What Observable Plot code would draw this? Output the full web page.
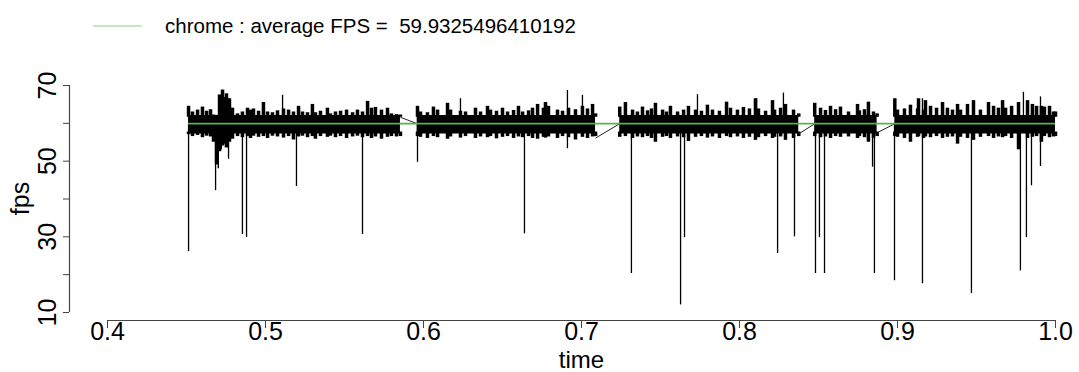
<!DOCTYPE html>
<html><head><meta charset="utf-8">
<script src="https://cdn.jsdelivr.net/npm/d3@7"></script>
<script src="https://cdn.jsdelivr.net/npm/@observablehq/plot@0.6"></script>
<style>
body{margin:0;background:#fff;}
#wrap{position:relative;width:1079px;height:372px;font-family:"Liberation Sans",Arial,sans-serif;}
#legend{position:absolute;left:0;top:0;}
#chart{position:absolute;left:0;top:0;}
</style></head>
<body><div id="wrap"><div id="chart"></div><svg id="legend" width="700" height="50"></svg></div>
<script>
const seriesName = "chrome";
const meanFps = 59.9325496410192;
const xTicks = [0.4, 0.5, 0.6, 0.7, 0.8, 0.9, 1.0];
const yTicks = [10, 20, 30, 40, 50, 60, 70];
const yLabelTicks = [10, 30, 50, 70];

// solid core of the dense FPS trace
const bandCoreHigh = 62.1;
const bandCoreLow = 57.2;
const segmentStart = [.4513, .5960, .7242, .8476, .8983];
const segmentEnd = [.5854, .7089, .8375, .8871, 1.0];

// jagged envelope of the trace (upper and lower excursions) per segment
const s1Time = [.4513,.4538,.4570,.4601,.4627,.4652,.4671,.4690,.4709,.4728,.4753,.4772,.4791,.4823,.4854,.4886,.4905,.4924,.4956,.4987,.5013,.5044,.5076,.5114,.5146,.5177,.5209,.5234,.5266,.5297,.5316,.5348,.5392,.5411,.5443,.5475,.5513,.5551,.5582,.5614,.5646,.5671,.5696,.5734,.5772,.5797,.5829,.5854];
const s1High = [64.5,63.0,63.5,64.3,63.2,63.6,62.2,62.1,67.5,68.8,67.8,66.5,64.0,62.5,63.0,64.0,63.5,63.8,63.2,65.5,63.0,62.8,63.3,63.8,63.5,63.0,64.5,63.0,62.8,65.0,62.8,63.2,64.0,62.5,63.0,63.2,63.5,62.8,63.5,63.0,65.8,64.0,64.2,63.5,64.0,62.5,62.3,62.2];
const s1Low = [57.0,56.5,56.8,56.2,56.6,56.4,55.0,49.0,52.5,54.0,53.5,55.0,55.8,56.5,56.2,56.5,56.0,56.6,56.3,56.5,56.0,56.6,56.4,56.1,56.5,55.6,56.4,56.6,56.2,56.5,55.8,56.5,56.3,56.6,56.2,56.5,56.0,56.4,56.6,56.2,56.5,56.0,56.4,55.8,56.3,56.5,56.4,56.5];

const s2Time = [.5962,.5981,.6025,.6063,.6089,.6152,.6171,.6234,.6266,.6329,.6361,.6405,.6424,.6462,.6500,.6532,.6570,.6601,.6627,.6665,.6690,.6722,.6759,.6772,.6791,.6848,.6880,.6918,.6962,.7006,.7038,.7070,.7089];
const s2High = [64.5,63.0,62.8,64.3,63.5,65.3,63.5,63.2,63.0,64.0,63.0,64.5,63.5,63.2,64.0,63.0,63.4,64.5,63.0,63.3,64.0,65.0,64.0,65.5,64.5,63.5,63.2,64.0,63.6,64.5,63.8,65.0,62.5];
const s2Low = [56.5,56.3,56.0,56.5,56.2,55.8,56.4,56.1,56.5,56.0,56.4,56.2,56.5,55.9,56.3,56.5,56.0,56.4,56.2,56.5,56.0,55.8,56.3,56.1,56.4,56.0,56.5,56.2,55.6,56.3,56.0,56.4,56.5];

const s3Time = [.7242,.7278,.7323,.7354,.7386,.7418,.7443,.7468,.7513,.7538,.7563,.7608,.7646,.7677,.7722,.7759,.7797,.7829,.7873,.7918,.7943,.7987,.8025,.8063,.8101,.8120,.8165,.8209,.8222,.8260,.8291,.8342,.8375];
const s3High = [64.3,65.5,63.5,63.0,64.3,63.3,63.8,65.3,63.5,63.0,64.5,63.0,63.5,64.5,63.5,63.2,64.8,63.5,63.2,65.6,64.0,63.5,64.2,63.8,66.5,63.8,63.2,66.0,63.5,64.0,65.0,63.5,62.5];
const s3Low = [56.3,56.5,56.0,56.4,56.2,56.5,56.0,55.0,56.3,56.5,56.0,56.4,56.2,55.2,56.3,56.5,56.1,56.4,56.0,56.5,56.2,56.4,56.0,56.3,55.5,56.2,56.5,56.0,56.3,56.4,55.5,56.0,56.5];

const s4Time = [.8476,.8513,.8544,.8576,.8608,.8639,.8690,.8747,.8759,.8791,.8816,.8848,.8871];
const s4High = [65.3,64.0,63.4,64.5,63.6,64.3,63.0,65.0,63.3,63.6,65.6,63.0,62.5];
const s4Low = [56.5,56.2,56.4,56.0,56.5,56.3,56.4,56.0,56.5,56.2,55.0,56.0,56.5];

const s5Time = [.8983,.9000,.9044,.9082,.9127,.9133,.9165,.9177,.9209,.9247,.9285,.9316,.9348,.9380,.9399,.9443,.9481,.9525,.9576,.9608,.9639,.9665,.9684,.9722,.9766,.9823,.9854,.9880,.9911,.9930,.9962,.9987,1.0];
const s5High = [66.5,63.5,63.8,64.8,63.8,66.5,63.5,66.0,64.5,64.0,65.5,64.0,63.5,65.0,63.5,65.0,66.0,63.5,65.5,64.5,64.0,66.0,64.0,64.5,65.5,66.0,65.0,64.5,64.5,64.3,64.5,63.0,63.0];
const s5Low = [56.5,56.3,56.0,55.0,56.3,56.5,56.0,56.4,56.2,56.5,56.0,56.3,56.4,54.5,56.3,56.0,55.5,56.3,56.5,56.0,56.4,56.2,56.5,56.0,53.0,56.0,56.3,56.5,55.0,56.5,56.2,56.4,56.5];

// dense burst near the start (solid block)
const burstTime = [.4684, .4700, .4709, .4728, .4753, .4772, .4785];
const burstHigh = [62.1, 62.1, 66.0, 66.8, 66.2, 65.0, 64.0];
const burstLow = [50.0, 48.0, 53.0, 54.5, 54.0, 55.5, 56.5];

// isolated frame-rate drops and peaks
const dropTime = [.4513,.4684,.4766,.4854,.4880,.5196,.5614,.5962,.6639,.6911,.7316,.7627,.7652,.8241,.8348,.8481,.8506,.8538,.8842,.8854,.8981,.9158,.9468,.9778,.9816,.9848,.9905];
const dropFps = [26.1,42.2,50.5,30.6,29.8,43.3,30.6,49.7,30.8,53.3,20.3,12.0,29.8,25.6,30.0,20.3,29.8,20.3,48.4,20.3,18.4,17.6,15.0,21.0,29.8,43.5,48.6];
const peakTime = [.5108,.6234,.6911,.7006,.7734,.8108,.8278,.9158,.9797,.9905];
const peakFps = [67.4,66.5,68.7,67.4,67.6,66.5,68.0,66.5,68.2,67.0];

// straight joins across the recording gaps
const gapFromTime = [.5854,.7089,.8375,.8871];
const gapFromFps = [61.6,56.1,57.2,57.5];
const gapToTime = [.5960,.7242,.8476,.8983];
const gapToFps = [59.9,59.9,59.9,59.9];

const segments = [[s1Time,s1High,s1Low],[s2Time,s2High,s2Low],[s3Time,s3High,s3Low],[s4Time,s4High,s4Low],[s5Time,s5High,s5Low]];
const envelope = segments.flatMap(([T,H,L]) => T.map((t,i) => ({t, hi:H[i], lo:L[i]})));
const core = segmentStart.flatMap((t,k) => [{seg:k, t, hi:bandCoreHigh, lo:bandCoreLow}, {seg:k, t:segmentEnd[k], hi:bandCoreHigh, lo:bandCoreLow}]);
const burst = burstTime.map((t,i) => ({t, hi:burstHigh[i], lo:burstLow[i]}));
const spikes = dropTime.map((t,i)=>({t, v:dropFps[i]})).concat(peakTime.map((t,i)=>({t, v:peakFps[i]})));
const gaps = gapFromTime.map((t,i)=>({t1:t, v1:gapFromFps[i], t2:gapToTime[i], v2:gapToFps[i]}));
const font = "Liberation Sans, Arial, sans-serif";

const chart = Plot.plot({
  width: 1079, height: 372,
  marginLeft: 69, marginRight: 0, marginTop: 76, marginBottom: 52,
  style: {fontFamily: font, color: "black", background: "white", overflow: "visible"},
  x: {domain: [xTicks[0], xTicks[xTicks.length-1]], range: [107, 1055]},
  y: {domain: [yTicks[0], yTicks[yTicks.length-1]], range: [312, 85]},
  marks: [
    Plot.areaY(core, {x:"t", y1:"lo", y2:"hi", z:"seg", fill:"black"}),
    Plot.areaY(burst, {x:"t", y1:"lo", y2:"hi", fill:"black", curve:"step-after"}),
    Plot.ruleX(envelope, {x:"t", y1: bandCoreHigh - 0.5, y2:"hi", stroke:"black", strokeWidth:3.5}),
    Plot.ruleX(envelope, {x:"t", y1: bandCoreLow + 0.5, y2:"lo", stroke:"black", strokeWidth:3.5}),
    Plot.ruleX(spikes, {x:"t", y1: 60, y2:"v", stroke:"black", strokeWidth:1.3}),
    Plot.link(gaps, {x1:"t1", y1:"v1", x2:"t2", y2:"v2", stroke:"#222", strokeWidth:1}),
    Plot.ruleY([meanFps], {x1: segmentStart[0], x2: segmentEnd[segmentEnd.length-1], stroke:"#52b545", strokeWidth:1.6}),
    Plot.ruleY([yTicks[0]], {x1: xTicks[0], x2: xTicks[xTicks.length-1], dy: 8, stroke:"#444", strokeWidth:1.2}),
    Plot.ruleX([xTicks[0]], {y1: yTicks[0], y2: yTicks[yTicks.length-1], dx: -38, stroke:"#444", strokeWidth:1.2}),
    Plot.axisX({ticks: xTicks, tickSize: 8, tickPadding: -6, fontSize: 25, label: null, tickFormat: d3.format(".1f"), stroke:"#444"}),
    Plot.axisY({ticks: yTicks, tickSize: 6, tickFormat: () => "", label: null, stroke:"#444"}),
    Plot.text(yLabelTicks, {y: d => d, text: d => String(d), frameAnchor: "left", dx: -14, rotate: -90, textAnchor: "middle", lineAnchor: "bottom", fontSize: 25}),
    Plot.text(["fps"], {frameAnchor: "left", dx: -41, rotate: -90, textAnchor: "middle", lineAnchor: "bottom", fontSize: 25}),
    Plot.text([(xTicks[0] + xTicks[xTicks.length-1]) / 2], {x: d => d, text: () => "time", frameAnchor: "bottom", dy: 47, lineAnchor: "bottom", fontSize: 24})
  ]
});
document.getElementById("chart").append(chart);

const lg = d3.select("#legend");
lg.append("line").attr("x1", 93).attr("x2", 142).attr("y1", 26).attr("y2", 26).attr("stroke", "#8fd088").attr("stroke-width", 1.2);
lg.append("text").attr("x", 165).attr("y", 33).attr("font-family", font).attr("font-size", 20.5).style("white-space", "pre")
  .text(`${seriesName} : average FPS =  ${meanFps}`);
</script></body></html>
